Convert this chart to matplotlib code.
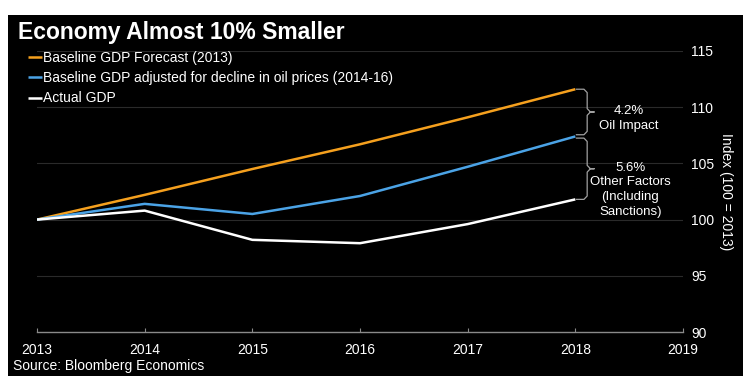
import numpy as np
import matplotlib.pyplot as plt
from matplotlib.patches import Rectangle

plt.rcParams['font.family'] = ['Liberation Sans', 'DejaVu Sans']

# data
years = [2013, 2014, 2015, 2016, 2017, 2018]
baseline = [100, 102.2, 104.5, 106.7, 109.1, 111.6]
adjusted = [100, 101.4, 100.5, 102.1, 104.7, 107.4]
actual = [100, 100.8, 98.2, 97.9, 99.6, 101.8]

labels = ['Baseline GDP Forecast (2013)',
          'Baseline GDP adjusted for decline in oil prices (2014-16)',
          'Actual GDP']
colors = ['#f5a01e', '#4ba3e6', '#ffffff']

xticks = [2013, 2014, 2015, 2016, 2017, 2018, 2019]
yticks = [90, 95, 100, 105, 110, 115]

fig = plt.figure(figsize=(7.5, 3.85), dpi=100, facecolor='white')
# black panel with white border
fig.patches.append(Rectangle((8/750, 1-376/385), 735/750, 361/385,
                             transform=fig.transFigure, facecolor='black',
                             edgecolor='none', zorder=-5))

ax = fig.add_axes([37/750, 1-332/385, 646/750, 281/385])
ax.set_zorder(2)
ax.set_facecolor('none')

for y, lab, c in zip([baseline, adjusted, actual], labels, colors):
    ax.plot(years, y, color=c, lw=1.8, label=lab, solid_capstyle='butt')

ax.set_xlim(2013, 2019)
ax.set_ylim(90, 115)
ax.set_xticks(xticks)
ax.set_yticks(yticks)

for v in yticks[1:]:
    ax.axhline(v, color='#2a2a2a', lw=0.8, zorder=0)

for s in ['top', 'left', 'right']:
    ax.spines[s].set_visible(False)
ax.spines['bottom'].set_color('#8a8a8a')
ax.spines['bottom'].set_linewidth(1)

ax.yaxis.tick_right()
ax.tick_params(axis='y', length=0, pad=6, labelcolor='white', labelsize=10)
ax.tick_params(axis='x', direction='in', length=3, color='#8a8a8a',
               labelcolor='white', labelsize=10, pad=8)
ax.yaxis.set_label_position('right')
ax.set_ylabel('Index (100 = 2013)', color='white', fontsize=10,
              rotation=270, labelpad=13)


# curly braces between line ends
def brace(ax, x0, ytop, ybot, w1=0.1, w2=0.165):
    ym = (ytop + ybot) / 2
    xs = [x0, x0 + w1*0.7, x0 + w1, x0 + w1, x0 + w1*1.3, x0 + w2,
          x0 + w1*1.3, x0 + w1, x0 + w1, x0 + w1*0.7, x0]
    ys = [ytop, ytop, ytop - 0.3, ym + 0.3, ym, ym,
          ym, ym - 0.3, ybot + 0.3, ybot, ybot]
    ax.plot(xs, ys, color='#a0a0a0', lw=0.9, clip_on=False)

xe = years[-1] + 0.01
brace(ax, xe, baseline[-1], adjusted[-1] + 0.15)
brace(ax, xe, adjusted[-1] - 0.15, actual[-1])

d1 = baseline[-1] - adjusted[-1]
d2 = adjusted[-1] - actual[-1]
ax.text(2018.5, 109.0, f'{d1:.1f}%\nOil Impact', color='white',
        fontsize=9.5, ha='center', va='center', linespacing=1.3)
ax.text(2018.51, 102.65,
        f'{d2:.1f}%\nOther Factors\n(Including\nSanctions)', color='white',
        fontsize=9.5, ha='center', va='center', linespacing=1.3)

leg = ax.legend(loc='upper left', bbox_to_anchor=(28/750, 1-51/385),
                bbox_transform=fig.transFigure, frameon=False,
                handlelength=1.0, handletextpad=0.1, labelspacing=0.45,
                fontsize=10, borderaxespad=0, borderpad=0)
for t in leg.get_texts():
    t.set_color('white')

fig.text(18/750, 1-33/385, 'Economy Almost 10% Smaller', color='white',
         fontsize=16.5, fontweight='bold', va='center', ha='left')
fig.text(13/750, 1-366/385, 'Source: Bloomberg Economics', color='white',
         fontsize=10, va='center', ha='left')

fig.savefig('out.png', dpi=100, facecolor='white')
